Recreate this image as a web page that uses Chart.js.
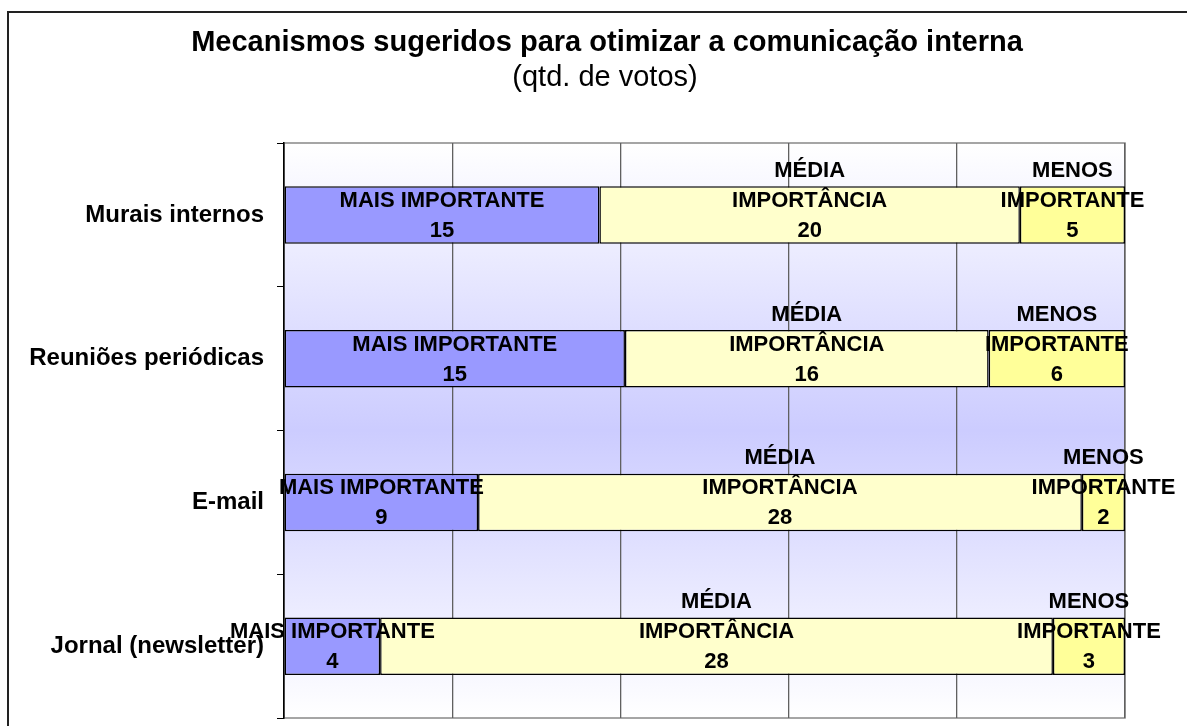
<!DOCTYPE html>
<html>
<head>
<meta charset="utf-8">
<script src="https://cdn.jsdelivr.net/npm/chart.js@4/dist/chart.umd.min.js"></script>
<style>
  body { margin: 0; background: #ffffff; }
  canvas { display: block; }
</style>
</head>
<body>
<canvas id="chart" width="1187" height="726"></canvas>
<script>
const categories = ['Murais internos', 'Reuniões periódicas', 'E-mail', 'Jornal (newsletter)'];
const maisImportante = [15, 15, 9, 4];
const mediaImportancia = [20, 16, 28, 28];
const menosImportante = [5, 6, 2, 3];
const seriesLabels = [['MAIS IMPORTANTE'], ['MÉDIA', 'IMPORTÂNCIA'], ['MENOS', 'IMPORTANTE']];
const titleText = 'Mecanismos sugeridos para otimizar a comunicação interna';
const subtitleText = '(qtd. de votos)';

const FONT = '"Liberation Sans", Arial, sans-serif';

// 100% stacked: each bar shows its share of the row total
const totals = categories.map((c, i) => maisImportante[i] + mediaImportancia[i] + menosImportante[i]);
const share = arr => arr.map((v, i) => v / totals[i] * 100);

const plotBackground = {
    id: 'plotBackground',
    beforeDraw(chart) {
        const ctx = chart.ctx;
        const a = chart.chartArea;
        ctx.save();
        // outer chart frame
        ctx.strokeStyle = '#222222';
        ctx.lineWidth = 2;
        ctx.beginPath();
        ctx.moveTo(8, chart.height + 5);
        ctx.lineTo(8, 12);
        ctx.lineTo(chart.width + 5, 12);
        ctx.stroke();
        // titles, centred over the whole chart box
        ctx.fillStyle = '#000000';
        ctx.textAlign = 'center';
        ctx.textBaseline = 'middle';
        ctx.font = 'bold 29px ' + FONT;
        ctx.fillText(titleText, 607, 43);
        ctx.font = '29px ' + FONT;
        ctx.fillText(subtitleText, 605, 78);
        // plot gradient
        const g = ctx.createLinearGradient(0, a.top, 0, a.bottom);
        g.addColorStop(0, '#ffffff');
        g.addColorStop(0.5, '#ccccff');
        g.addColorStop(1, '#ffffff');
        ctx.fillStyle = g;
        ctx.fillRect(a.left, a.top, a.right - a.left, a.bottom - a.top);
        ctx.strokeStyle = '#888888';
        ctx.lineWidth = 1.5;
        ctx.strokeRect(a.left, a.top, a.right - a.left, a.bottom - a.top);
        ctx.restore();
    }
};

const barLabels = {
    id: 'barLabels',
    afterDatasetsDraw(chart) {
        const ctx = chart.ctx;
        ctx.save();
        ctx.font = 'bold 22px ' + FONT;
        ctx.fillStyle = '#000000';
        ctx.textAlign = 'center';
        ctx.textBaseline = 'middle';
        chart.data.datasets.forEach((ds, di) => {
            chart.getDatasetMeta(di).data.forEach((bar, i) => {
                const p = bar.getCenterPoint();
                const lines = seriesLabels[di].concat(String(ds.counts[i]));
                lines.forEach((t, k) => {
                    const y = p.y + 16 - (lines.length - 1 - k) * 30;
                    ctx.fillText(t, p.x, y);
                });
            });
        });
        ctx.restore();
    }
};

const barStyle = {
    borderColor: '#000000',
    borderWidth: 1.5,
    borderSkipped: false,
    barPercentage: 0.4,
    categoryPercentage: 1
};

new Chart(document.getElementById('chart'), {
    type: 'bar',
    data: {
        labels: categories,
        datasets: [
            Object.assign({ label: 'MAIS IMPORTANTE', data: share(maisImportante), counts: maisImportante, backgroundColor: '#9999ff' }, barStyle),
            Object.assign({ label: 'MÉDIA IMPORTÂNCIA', data: share(mediaImportancia), counts: mediaImportancia, backgroundColor: '#ffffcc' }, barStyle),
            Object.assign({ label: 'MENOS IMPORTANTE', data: share(menosImportante), counts: menosImportante, backgroundColor: '#ffff99' }, barStyle)
        ]
    },
    options: {
        indexAxis: 'y',
        responsive: false,
        animation: false,
        layout: { padding: { top: 143, left: 0, right: 62, bottom: 8 } },
        plugins: {
            legend: { display: false },
            tooltip: { enabled: false }
        },
        scales: {
            x: {
                stacked: true,
                min: 0,
                max: 100,
                afterFit(scale) { scale.height = 0; },
                ticks: { display: false, stepSize: 20 },
                grid: { color: '#606060', lineWidth: 1.3, drawTicks: false },
                border: { display: false }
            },
            y: {
                stacked: true,
                afterFit(scale) {
                    scale.width = 284;
                    scale.paddingTop = 0;
                    scale.paddingBottom = 0;
                },
                ticks: {
                    color: '#000000',
                    padding: 13,
                    font: { family: FONT, size: 24, weight: 'bold' }
                },
                grid: { drawOnChartArea: false, tickLength: 7, color: '#000000' },
                border: { display: true, color: '#000000', width: 1.5 }
            }
        }
    },
    plugins: [plotBackground, barLabels]
});
</script>
</body>
</html>
